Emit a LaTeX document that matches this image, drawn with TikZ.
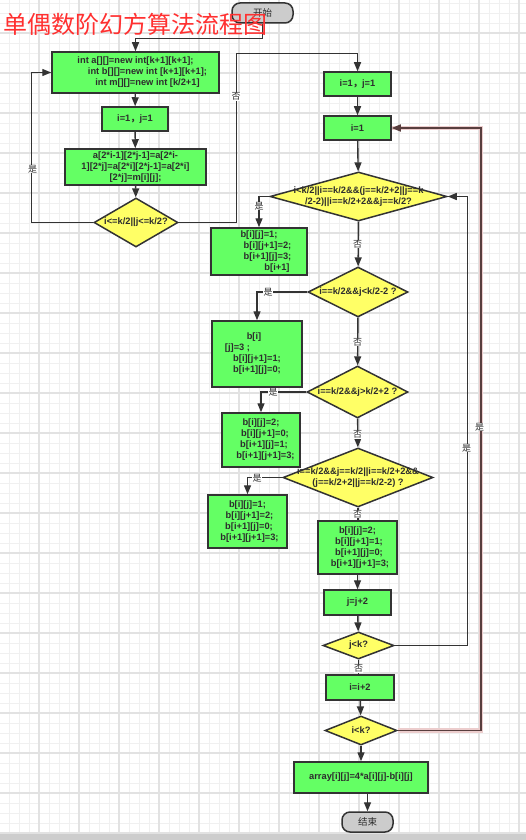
\documentclass[tikz,border=0pt]{standalone}
\usepackage{fontspec}
\setmainfont{Liberation Sans}
\newfontfamily\cjk{Noto Sans CJK SC}
\usetikzlibrary{shapes.geometric,arrows.meta}
\definecolor{pgreen}{RGB}{100,255,100}
\definecolor{pyellow}{RGB}{255,255,102}
\definecolor{tgray}{RGB}{204,204,204}
\definecolor{linec}{RGB}{51,51,51}
\definecolor{txt}{RGB}{45,45,45}
\definecolor{gminor}{RGB}{240,240,240}
\definecolor{gmajor}{RGB}{226,226,226}
\definecolor{titlered}{RGB}{255,48,48}
\definecolor{halo}{RGB}{236,205,205}
\definecolor{loopc}{RGB}{88,62,62}
\definecolor{barc}{RGB}{205,205,205}
\tikzset{
  basebox/.style={draw=linec, line width=1.5pt, inner sep=0pt, align=center,
    text=txt, font=\bfseries\fontsize{9.3}{11}\selectfont},
  procbox/.style={basebox, rectangle, fill=pgreen},
  decbox/.style={basebox, diamond, fill=pyellow},
  termbox/.style={basebox, rectangle, rounded corners=8pt, fill=tgray,
    font=\cjk\fontsize{9.5}{11}\selectfont},
  dtxt/.style={inner sep=0pt, align=center, text=txt, font=\bfseries\fontsize{9.3}{11}\selectfont},
  conn/.style={draw=linec, line width=1.4pt},
  arr/.style={conn, -{Triangle[length=9pt,width=7pt]}},
  loopline/.style={draw=loopc, line width=1.5pt, -{Triangle[length=9pt,width=7pt]},
    preaction={draw=halo, line width=4.5pt, -}},
  lab/.style={font=\cjk\fontsize{9}{9}\selectfont, fill=white, inner sep=0.4pt, text=txt},
}
\begin{document}
\begin{tikzpicture}[x=1pt,y=-1pt]
\useasboundingbox (0,0) rectangle (526,840);
\fill[white] (0,0) rectangle (526,840);
% grid
\foreach \gx in {9,19,...,519} \draw[gminor, line width=0.9pt] (\gx,0) -- (\gx,834);
\foreach \gy in {3,13,...,833} \draw[gminor, line width=0.9pt] (0,\gy) -- (526,\gy);
\foreach \gx in {39,79,...,519} \draw[gmajor, line width=1.1pt] (\gx,0) -- (\gx,834);
\foreach \gy in {33,73,...,833} \draw[gmajor, line width=1.1pt] (0,\gy) -- (526,\gy);
\fill[barc] (0,834) rectangle (526,840);

% nodes
\node[termbox, minimum width=61, minimum height=20] (start) at (262.5,13) {开始};
\node[procbox, minimum width=167, minimum height=41] (A) at (135.5,72.5)
  {int a[][]=new int[k+1][k+1];\\\hspace*{24pt}int b[][]=new int [k+1][k+1];\\\hspace*{24pt}int m[][]=new int [k/2+1]};
\node[procbox, minimum width=66, minimum height=24] (B) at (135,119) {i=1{\cjk ，}j=1};
\node[procbox, minimum width=141, minimum height=36] (C) at (135.5,167)
  {a[2*i-1][2*j-1]=a[2*i-\\1][2*j]=a[2*i][2*j-1]=a[2*i]\\{}[2*j]=m[i][j];};
\node[decbox, minimum width=84, minimum height=49] (D1) at (136,222.5) {};
\node[dtxt] (D1t) at (D1) {i<=k/2||j<=k/2?};

\node[procbox, minimum width=67, minimum height=24] (E) at (357.5,84) {i=1{\cjk ，}j=1};
\node[procbox, minimum width=67, minimum height=24] (F) at (357.5,128) {i=1};
\node[decbox, minimum width=177, minimum height=49] (G) at (358.5,196.5) {};
\node[dtxt] (Gt) at (G) {i<k/2||i==k/2\&\&(j==k/2+2||j==k\\/2-2)||i==k/2+2\&\&j==k/2?};
\node[procbox, minimum width=96, minimum height=47] (H) at (259,251.5)
  {b[i][j]=1;\\\hspace*{17pt}b[i][j+1]=2;\\\hspace*{17pt}b[i+1][j]=3;\\\hspace*{36pt}b[i+1]};
\node[decbox, minimum width=100, minimum height=50] (I) at (358,292) {};
\node[dtxt] (It) at (I) {i==k/2\&\&j<k/2-2 ?};
\node[procbox, minimum width=90, minimum height=66] (J) at (257,354)
  {\hspace*{-6pt}b[i]\\\hspace*{-39pt}[j]=3 ;\\b[i][j+1]=1;\\b[i+1][j]=0;};
\node[decbox, minimum width=101, minimum height=52] (K) at (357.5,392) {};
\node[dtxt] (Kt) at (K) {i==k/2\&\&j>k/2+2 ?};
\node[procbox, minimum width=78, minimum height=54] (L) at (261,440)
  {b[i][j]=2;\\\hspace*{8pt}b[i][j+1]=0;\\\hspace*{6pt}b[i+1][j]=1;\\\hspace*{9pt}b[i+1][j+1]=3;};
\node[decbox, minimum width=150, minimum height=59] (M) at (358,477.5) {};
\node[dtxt] (Mt) at (M) {i==k/2\&\&j==k/2||i==k/2+2\&\&\\(j==k/2+2||j==k/2-2) ?};
\node[procbox, minimum width=79, minimum height=53] (N) at (247.5,521.5)
  {b[i][j]=1;\\\hspace*{4pt}b[i][j+1]=2;\\\hspace*{3pt}b[i+1][j]=0;\\\hspace*{4pt}b[i+1][j+1]=3;};
\node[procbox, minimum width=79, minimum height=53] (O) at (357.5,547.5)
  {b[i][j]=2;\\\hspace*{3pt}b[i][j+1]=1;\\\hspace*{3pt}b[i+1][j]=0;\\\hspace*{5pt}b[i+1][j+1]=3;};
\node[procbox, minimum width=67, minimum height=25] (P) at (357.5,602.5) {j=j+2};
\node[decbox, minimum width=71, minimum height=27] (Q) at (358.5,645.5) {};
\node[dtxt] (Qt) at (Q) {j<k?};
\node[procbox, minimum width=68, minimum height=25] (R) at (360,687.5) {i=i+2};
\node[decbox, minimum width=72, minimum height=29] (S) at (361,730.5) {};
\node[dtxt] (St) at (S) {i<k?};
\node[procbox, minimum width=134, minimum height=31] (T) at (361,777.5) {array[i][j]=4*a[i][j]-b[i][j]};
\node[termbox, minimum width=51, minimum height=20] (U) at (367.5,822) {结束};

% connectors
\draw[arr] (start.south) -- ++(0,15) -| (A.north);
\draw[arr] (A) -- (B);
\draw[arr] (B) -- (C);
\draw[arr] (C) -- (D1);
\draw[arr] (D1.west) -- ++(-62,0) |- (A.west);
\draw[arr] (D1.east) -- ++(58,0) |- ([yshift=18pt]E.north) -- (E.north);
\draw[arr] (E) -- (F);
\draw[arr] (F) -- (G);
\draw[arr] (G.west) -| (H.north);
\draw[arr] (G) -- (I);
\draw[arr] (I.west) -| (J.north);
\draw[arr] (I) -- (K);
\draw[arr] (K.west) -| (L.north);
\draw[arr] (K) -- (M);
\draw[arr] (M.west) -| (N.north);
\draw[conn] (M.south) -- (M.south |- O.north);
\draw[arr] (O) -- (P);
\draw[arr] (P) -- (Q);
\draw[arr] (Q.east) -| ([xshift=19.5pt]G.east) -- (G.east);
\draw[conn] (Q.south) -- (Q.south |- R.north);
\draw[arr] (R) -- (S);
\draw[loopline] (S.east) -| ([xshift=89pt]F.east) -- (F.east);
\draw[arr] (S) -- (T);
\draw[arr] (U.north |- T.south) -- (U.north);

% labels
\node[lab] (l1) at (32.5,169) {是};
\node[lab] (l2) at (236,96.5) {否};
\node[lab] (l3) at (259,206) {是};
\node[lab] (l4) at (357.5,244) {否};
\node[lab] (l5) at (268,292) {是};
\node[lab] (l6) at (357.5,342) {否};
\node[lab] (l7) at (273,392.5) {是};
\node[lab] (l8) at (357.5,434.5) {否};
\node[lab] (l9) at (257,478) {是};
\node[lab] (l10) at (357.5,514) {否};
\node[lab] (l11) at (466.5,448) {是};
\node[lab] (l12) at (358.5,668.5) {否};
\node[lab] (l13) at (479.5,427) {是};

% title
\node[anchor=west, inner sep=0pt, text=titlered, font=\cjk\fontsize{24}{24}\selectfont] (title) at (3,24) {单偶数阶幻方算法流程图};
\end{tikzpicture}
\end{document}
